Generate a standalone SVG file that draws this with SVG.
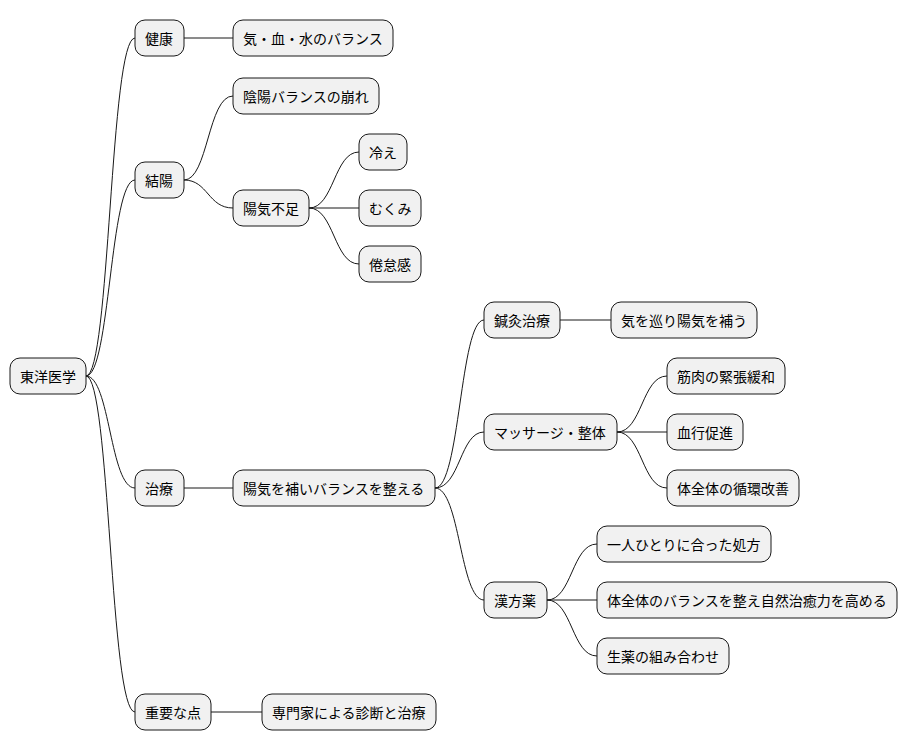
<svg xmlns="http://www.w3.org/2000/svg" width="908" height="752" viewBox="0 0 908 752">
<style>
.n rect{fill:#f1f1f1;stroke:#181818;stroke-width:1}
.n text{font-family:"Noto Sans CJK JP","Noto Sans",sans-serif;font-size:14px;fill:#000;dominant-baseline:central}
#c path{fill:none;stroke:#181818;stroke-width:1}
</style>
<rect width="908" height="752" fill="#fff"/>
<g id="c">
<path d="M86 376 C110 376 110 38 135 38"/>
<path d="M86 376 C110 376 110 180 135 180"/>
<path d="M86 376 C110 376 110 488 135 488"/>
<path d="M86 376 C110 376 110 712 135 712"/>
<path d="M184 38 L233 38"/>
<path d="M184 180 C208 180 208 96 233 96"/>
<path d="M184 180 C208 180 208 208 233 208"/>
<path d="M309 208 C334 208 334 152 359 152"/>
<path d="M309 208 L359 208"/>
<path d="M309 208 C334 208 334 264 359 264"/>
<path d="M184 488 L233 488"/>
<path d="M435 488 C460 488 460 320 484 320"/>
<path d="M435 488 C460 488 460 432 484 432"/>
<path d="M435 488 C460 488 460 600 484 600"/>
<path d="M560 320 L611 320"/>
<path d="M617 432 C642 432 642 376 667 376"/>
<path d="M617 432 L667 432"/>
<path d="M617 432 C642 432 642 488 667 488"/>
<path d="M547 600 C572 600 572 544 597 544"/>
<path d="M547 600 L597 600"/>
<path d="M547 600 C572 600 572 656 597 656"/>
<path d="M211 712 L262 712"/>
</g>
<g id="n0" class="n"><rect x="10" y="358" width="76" height="36" rx="10"/><text x="20" y="376">東洋医学</text></g>
<g id="n1" class="n"><rect x="135" y="20" width="49" height="36" rx="10"/><text x="145" y="38">健康</text></g>
<g id="n2" class="n"><rect x="233" y="20" width="160" height="36" rx="10"/><text x="243" y="38">気・血・水のバランス</text></g>
<g id="n3" class="n"><rect x="135" y="162" width="49" height="36" rx="10"/><text x="145" y="180">結陽</text></g>
<g id="n4" class="n"><rect x="233" y="78" width="146" height="36" rx="10"/><text x="243" y="96">陰陽バランスの崩れ</text></g>
<g id="n5" class="n"><rect x="233" y="190" width="76" height="36" rx="10"/><text x="243" y="208">陽気不足</text></g>
<g id="n6" class="n"><rect x="359" y="134" width="48" height="36" rx="10"/><text x="369" y="152">冷え</text></g>
<g id="n7" class="n"><rect x="359" y="190" width="62" height="36" rx="10"/><text x="369" y="208">むくみ</text></g>
<g id="n8" class="n"><rect x="359" y="246" width="62" height="36" rx="10"/><text x="369" y="264">倦怠感</text></g>
<g id="n9" class="n"><rect x="135" y="470" width="49" height="36" rx="10"/><text x="145" y="488">治療</text></g>
<g id="n10" class="n"><rect x="233" y="470" width="202" height="36" rx="10"/><text x="243" y="488">陽気を補いバランスを整える</text></g>
<g id="n11" class="n"><rect x="484" y="302" width="76" height="36" rx="10"/><text x="494" y="320">鍼灸治療</text></g>
<g id="n12" class="n"><rect x="611" y="302" width="146" height="36" rx="10"/><text x="621" y="320">気を巡り陽気を補う</text></g>
<g id="n13" class="n"><rect x="484" y="414" width="133" height="36" rx="10"/><text x="494" y="432">マッサージ・整体</text></g>
<g id="n14" class="n"><rect x="667" y="358" width="118" height="36" rx="10"/><text x="677" y="376">筋肉の緊張緩和</text></g>
<g id="n15" class="n"><rect x="667" y="414" width="76" height="36" rx="10"/><text x="677" y="432">血行促進</text></g>
<g id="n16" class="n"><rect x="667" y="470" width="132" height="36" rx="10"/><text x="677" y="488">体全体の循環改善</text></g>
<g id="n17" class="n"><rect x="484" y="582" width="63" height="36" rx="10"/><text x="494" y="600">漢方薬</text></g>
<g id="n18" class="n"><rect x="597" y="526" width="174" height="36" rx="10"/><text x="607" y="544">一人ひとりに合った処方</text></g>
<g id="n19" class="n"><rect x="597" y="582" width="300" height="36" rx="10"/><text x="607" y="600">体全体のバランスを整え自然治癒力を高める</text></g>
<g id="n20" class="n"><rect x="597" y="638" width="132" height="36" rx="10"/><text x="607" y="656">生薬の組み合わせ</text></g>
<g id="n21" class="n"><rect x="135" y="694" width="76" height="36" rx="10"/><text x="145" y="712">重要な点</text></g>
<g id="n22" class="n"><rect x="262" y="694" width="174" height="36" rx="10"/><text x="272" y="712">専門家による診断と治療</text></g>
</svg>
